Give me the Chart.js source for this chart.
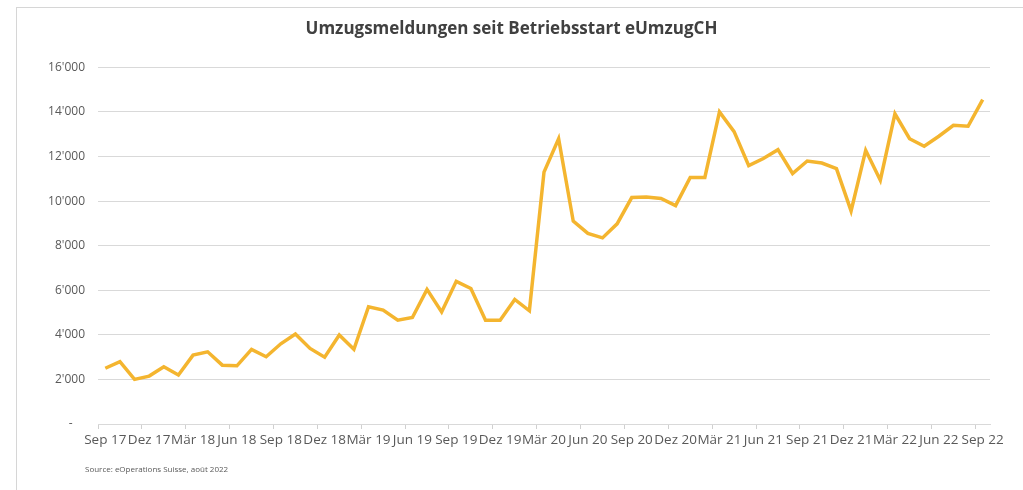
<!DOCTYPE html>
<html>
<head>
<meta charset="utf-8">
<script src="https://cdn.jsdelivr.net/npm/chart.js@4.4.0/dist/chart.umd.min.js"></script>
<style>
  html, body { margin: 0; padding: 0; background: #ffffff; }
  #wrap { position: relative; width: 1023px; height: 490px; overflow: hidden; }
  #frame { position: absolute; left: 16px; top: 7px; width: 1040px; height: 520px;
           border-top: 1px solid #d6d6d6; border-left: 1px solid #d6d6d6; }
  canvas { position: absolute; left: 0; top: 0; }
  #source { position: absolute; left: 85px; top: 463px; font-family: "Open Sans", sans-serif;
            font-size: 8px; color: #595959; }
</style>
</head>
<body>
<div id="wrap">
  <div id="frame"></div>
  <canvas id="c" width="1023" height="490"></canvas>
  <div id="source">Source: eOperations Suisse, août 2022</div>
</div>
<script>
const titleText = "Umzugsmeldungen seit Betriebsstart eUmzugCH";
const monthNames = ["Sep","Okt","Nov","Dez","Jan","Feb","Mär","Apr","Mai","Jun","Jul","Aug"];
const startYear = 17;
const tickLabels = ["Sep 17","Dez 17","Mär 18","Jun 18","Sep 18","Dez 18","Mär 19","Jun 19","Sep 19","Dez 19",
                    "Mär 20","Jun 20","Sep 20","Dez 20","Mär 21","Jun 21","Sep 21","Dez 21","Mär 22","Jun 22","Sep 22"];
const yTicks = [0, 2000, 4000, 6000, 8000, 10000, 12000, 14000, 16000];

const values = [
  2500, 2800, 2000, 2150, 2570, 2200, 3090, 3240, 2640, 2610,
  3350, 3020, 3600, 4040, 3390, 3000, 3990, 3350, 5260, 5110,
  4660, 4780, 6040, 5030, 6400, 6080, 4660, 4660, 5590, 5080,
  11300, 12800, 9100, 8550, 8350, 8980, 10160, 10190, 10120, 9800,
  11060, 11060, 14000, 13120, 11590, 11910, 12310, 11240, 11800, 11710,
  11460, 9560, 12280, 10940, 13920, 12800, 12460, 12910, 13400, 13360,
  14550
];

// monthly categories Sep 17 .. Sep 22
const categories = values.map((v, i) => {
  const m = i % 12;
  const yr = startYear + Math.floor((i + 8) / 12);
  return monthNames[m] + " " + yr;
});

function fmt(v) {
  if (v === 0) return "-    ";
  const s = String(v);
  return s.slice(0, s.length - 3) + "'" + s.slice(s.length - 3);
}

new Chart(document.getElementById("c"), {
  type: "line",
  data: {
    labels: categories,
    datasets: [{
      data: values,
      borderColor: "#F4B52F",
      borderWidth: 3.5,
      pointRadius: 0,
      tension: 0,
      fill: false
    }]
  },
  options: {
    responsive: false,
    animation: false,
    layout: { padding: { left: 33, right: 33, top: 0, bottom: 36 } },
    plugins: {
      legend: { display: false },
      tooltip: { enabled: false },
      title: {
        display: true,
        text: titleText,
        color: "#404040",
        font: { family: "Open Sans", size: 17, weight: "bold" },
        padding: { top: 19, bottom: 28 }
      }
    },
    scales: {
      x: {
        type: "category",
        offset: true,
        grid: {
          offset: true,
          drawOnChartArea: false,
          drawTicks: true,
          tickLength: 5,
          color: (ctx) => (ctx.index % 3 === 0 ? "#d0d0d0" : "rgba(0,0,0,0)")
        },
        border: { display: true, color: "#d9d9d9", width: 1 },
        ticks: {
          autoSkip: false,
          maxRotation: 0,
          minRotation: 0,
          padding: 3,
          color: "#595959",
          font: { family: "Open Sans", size: 13.5 },
          callback: function (val, idx) {
            return idx % 3 === 0 ? tickLabels[idx / 3] : "";
          }
        },
        afterFit: (s) => { s.height = 30; }
      },
      y: {
        min: 0,
        max: 16000,
        afterBuildTicks: (s) => { s.ticks = yTicks.map(v => ({ value: v })); },
        grid: { color: "#d9d9d9", drawTicks: false, lineWidth: 1 },
        border: { display: false },
        ticks: {
          padding: 13,
          color: "#595959",
          font: { family: "Open Sans", size: 12 },
          callback: (v) => fmt(v)
        },
        afterFit: (s) => { s.width = 65; }
      }
    }
  }
});
</script>
</body>
</html>
